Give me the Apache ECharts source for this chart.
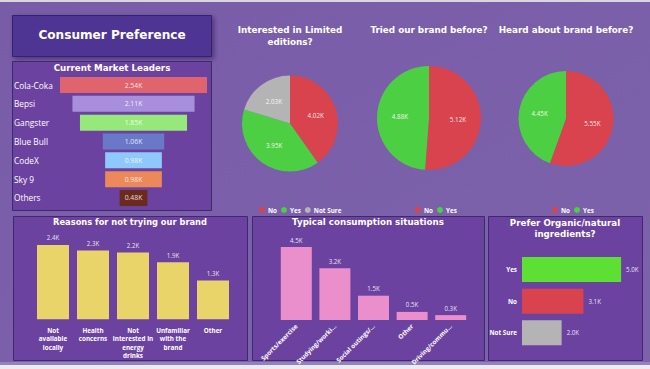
<!DOCTYPE html>
<html><head><meta charset="utf-8">
<script src="https://cdn.jsdelivr.net/npm/echarts@6/dist/echarts.min.js"></script>
<style>html,body{margin:0;padding:0;background:#7a5ea9;overflow:hidden}#c{width:650px;height:369px}</style>
</head><body><div id="c"></div>
<script>
// ---- data ----
const brands = ['Cola-Coka', 'Bepsi', 'Gangster', 'Blue Bull', 'CodeX', 'Sky 9', 'Others'];
const brandValues = [2.54, 2.11, 1.85, 1.06, 0.98, 0.98, 0.48];

const limitedNames = ['No', 'Yes', 'Not Sure'];
const limitedValues = [4.02, 3.95, 2.03];
const triedNames = ['No', 'Yes'];
const triedValues = [5.12, 4.88];
const heardNames = ['No', 'Yes'];
const heardValues = [5.55, 4.45];

const reasons = ['Not\navailable\nlocally', 'Health\nconcerns', 'Not\ninterested in\nenergy\ndrinks', 'Unfamiliar\nwith the\nbrand', 'Other'];
const reasonValues = [2.44, 2.26, 2.19, 1.87, 1.27];

const situations = ['Sports/exercise', 'Studying/worki...', 'Social outings/...', 'Other', 'Driving/commu...'];
const situationValues = [4.5, 3.2, 1.5, 0.5, 0.3];

const organicNames = ['Yes', 'No', 'Not Sure'];
const organicValues = [5.0, 3.1, 2.0];

// ---- styles ----
const brandColors = ['#e0646e', '#a88fdc', '#97e87b', '#6a78c8', '#8fc9fb', '#ec895a', '#6a2a1c'];
const answerColors = { 'No': '#d9434e', 'Yes': '#4dcf43', 'Not Sure': '#b4b4b4' };
const organicColors = { 'Yes': '#5de033', 'No': '#d9434e', 'Not Sure': '#b4b4b4' };
const PANEL = '#6c42a0', PANEL_BORDER = '#3c2a6c';
const TITLE_FONT = '"DejaVu Sans", Verdana, sans-serif';
const BODY_FONT = '"Open Sans", "Noto Sans", sans-serif';

const kFmt = d => (d) => d.toFixed(d === undefined ? 0 : d);
function fmtK(v, dec) { return v.toFixed(dec) + 'K'; }

const chart = echarts.init(document.getElementById('c'), null, { renderer: 'svg', width: 650, height: 369 });

const maxBrand = Math.max(...brandValues);

function pieSeries(name, names, values, center, radius) {
  return {
    type: 'pie', name, center, radius, startAngle: 90, clockwise: true,
    silent: true, animation: false,
    label: { position: 'inside', color: 'rgba(255,255,255,0.9)', fontSize: 6.3, fontFamily: BODY_FONT,
      formatter: p => fmtK(p.value, 2) },
    labelLine: { show: false },
    itemStyle: { borderWidth: 0 },
    data: names.map((n, i) => ({ name: n, value: values[i], itemStyle: { color: answerColors[n] } }))
  };
}

function legend(names, left) {
  return {
    data: names, left, top: 202, orient: 'horizontal', selectedMode: false,
    icon: 'circle', itemWidth: 6, itemHeight: 6, itemGap: 4,
    textStyle: { color: '#fff', fontSize: 6.3, fontWeight: 'bold', fontFamily: BODY_FONT, padding: [0, 0, 0, -2] }
  };
}

function titleText(text, x, y, size, lh) {
  return { type: 'text', x, y, silent: true, style: {
    text, fill: '#ffffff', font: 'bold ' + size + 'px ' + TITLE_FONT,
    align: 'center', textAlign: 'center', verticalAlign: 'middle', textVerticalAlign: 'middle',
    lineHeight: lh || size * 1.3 } };
}

function panel(x, y, w, h) {
  return { type: 'rect', silent: true, shape: { x: x + 0.5, y: y + 0.5, width: w, height: h },
    style: { fill: PANEL, stroke: PANEL_BORDER, lineWidth: 1 } };
}

const hiddenAxis = { axisLine: { show: false }, axisTick: { show: false }, splitLine: { show: false } };

const option = {
  animation: false,
  backgroundColor: {
    type: 'linear', x: 0, y: 0, x2: 1, y2: 1,
    colorStops: [{ offset: 0, color: '#795ca8' }, { offset: 1, color: '#7c62ab' }]
  },
  graphic: [
    { type: 'rect', silent: true, shape: { x: 0, y: 0, width: 650, height: 2 }, style: { fill: '#d8d6e0' } },
    { type: 'rect', silent: true, shape: { x: 0, y: 362, width: 650, height: 3 }, style: { fill: '#9582bd' } },
    { type: 'rect', silent: true, shape: { x: 0, y: 365, width: 650, height: 4 }, style: { fill: '#ececf0' } },
    { type: 'rect', silent: true, shape: { x: 12.5, y: 15.5, width: 199, height: 41 },
      style: { fill: '#4f3593', stroke: '#35236a', lineWidth: 1, shadowBlur: 5, shadowOffsetX: 2, shadowOffsetY: 2, shadowColor: 'rgba(20,0,50,0.45)' } },
    panel(12, 61, 199, 149),
    panel(13, 216, 234, 144),
    panel(252, 216, 232, 144),
    panel(488, 216, 154, 144),
    titleText('Consumer Preference', 112, 35, 12.1),
    titleText('Current Market Leaders', 112, 68, 8.7),
    titleText('Interested in Limited\neditions?', 290, 36, 8.8, 12),
    titleText('Tried our brand before?', 429, 30, 8.8),
    titleText('Heard about brand before?', 566, 30, 8.8),
    titleText('Reasons for not trying our brand', 130, 222, 8.3),
    titleText('Typical consumption situations', 368, 222, 8.7),
    titleText('Prefer Organic/natural\ningredients?', 565, 228, 8.7, 11)
  ],
  legend: [
    legend(limitedNames, 254),
    legend(triedNames, 410),
    legend(heardNames, 547)
  ],
  grid: [
    { left: 60, top: 75.6, width: 147, height: 131.8 },
    { left: 33, top: 237, width: 200, height: 82.3 },
    { left: 277, top: 239, width: 193, height: 81 },
    { left: 522, top: 253.7, width: 109, height: 95 }
  ],
  xAxis: [
    Object.assign({ type: 'value', gridIndex: 0, min: 0, max: maxBrand, axisLabel: { show: false } }, hiddenAxis),
    Object.assign({ type: 'category', gridIndex: 1, data: reasons,
      axisLabel: { interval: 0, color: '#fff', fontSize: 6.3, fontWeight: 'bold', fontFamily: BODY_FONT, lineHeight: 8.3, margin: 7, verticalAlign: 'top' } }, hiddenAxis),
    Object.assign({ type: 'category', gridIndex: 2, data: situations,
      axisLabel: { interval: 0, rotate: 45, color: '#fff', fontSize: 6.3, fontWeight: 'bold', fontFamily: BODY_FONT, margin: 5 } }, hiddenAxis),
    Object.assign({ type: 'value', gridIndex: 3, min: 0, max: 5.5, axisLabel: { show: false } }, hiddenAxis)
  ],
  yAxis: [
    Object.assign({ type: 'category', gridIndex: 0, data: brands, inverse: true,
      axisLabel: { align: 'left', margin: 46, color: '#fff', fontSize: 8.3, fontFamily: BODY_FONT } }, hiddenAxis),
    Object.assign({ type: 'value', gridIndex: 1, min: 0, max: 2.7, axisLabel: { show: false } }, hiddenAxis),
    Object.assign({ type: 'value', gridIndex: 2, min: 0, max: 5, axisLabel: { show: false } }, hiddenAxis),
    Object.assign({ type: 'category', gridIndex: 3, data: organicNames, inverse: true,
      axisLabel: { color: '#fff', fontSize: 6.3, fontWeight: 'bold', fontFamily: BODY_FONT, margin: 5 } }, hiddenAxis)
  ],
  series: [
    { type: 'bar', xAxisIndex: 0, yAxisIndex: 0, stack: 'funnel', barWidth: 16, silent: true,
      itemStyle: { color: 'transparent' },
      data: brandValues.map(v => (maxBrand - v) / 2) },
    { type: 'bar', xAxisIndex: 0, yAxisIndex: 0, stack: 'funnel', barWidth: 16, silent: true,
      label: { show: true, position: 'inside', color: 'rgba(255,255,255,0.85)', fontSize: 6.8, fontFamily: BODY_FONT,
        formatter: p => fmtK(p.value, 2) },
      data: brandValues.map((v, i) => ({ value: v, itemStyle: { color: brandColors[i] } })) },
    { type: 'bar', xAxisIndex: 1, yAxisIndex: 1, barWidth: 32, silent: true,
      itemStyle: { color: '#e9d46a' },
      label: { show: true, position: 'top', distance: 4, color: 'rgba(255,255,255,0.88)', fontSize: 6.2, fontFamily: BODY_FONT,
        formatter: p => fmtK(p.value, 1) },
      data: reasonValues },
    { type: 'bar', xAxisIndex: 2, yAxisIndex: 2, barWidth: 31, silent: true,
      itemStyle: { color: '#ea8fcc' },
      label: { show: true, position: 'top', distance: 4, color: 'rgba(255,255,255,0.88)', fontSize: 6.2, fontFamily: BODY_FONT,
        formatter: p => fmtK(p.value, 1) },
      data: situationValues },
    { type: 'bar', xAxisIndex: 3, yAxisIndex: 3, barWidth: 25, silent: true,
      label: { show: true, position: 'right', distance: 5, color: 'rgba(255,255,255,0.88)', fontSize: 6.2, fontFamily: BODY_FONT,
        formatter: p => fmtK(p.value, 1) },
      data: organicValues.map((v, i) => ({ value: v, itemStyle: { color: organicColors[organicNames[i]] } })) },
    pieSeries('Interested in Limited editions?', limitedNames, limitedValues, [290, 123.5], 48),
    pieSeries('Tried our brand before?', triedNames, triedValues, [429, 118], 52),
    pieSeries('Heard about brand before?', heardNames, heardValues, [566, 118.5], 47.5)
  ]
};
chart.setOption(option);
</script>
</body></html>
